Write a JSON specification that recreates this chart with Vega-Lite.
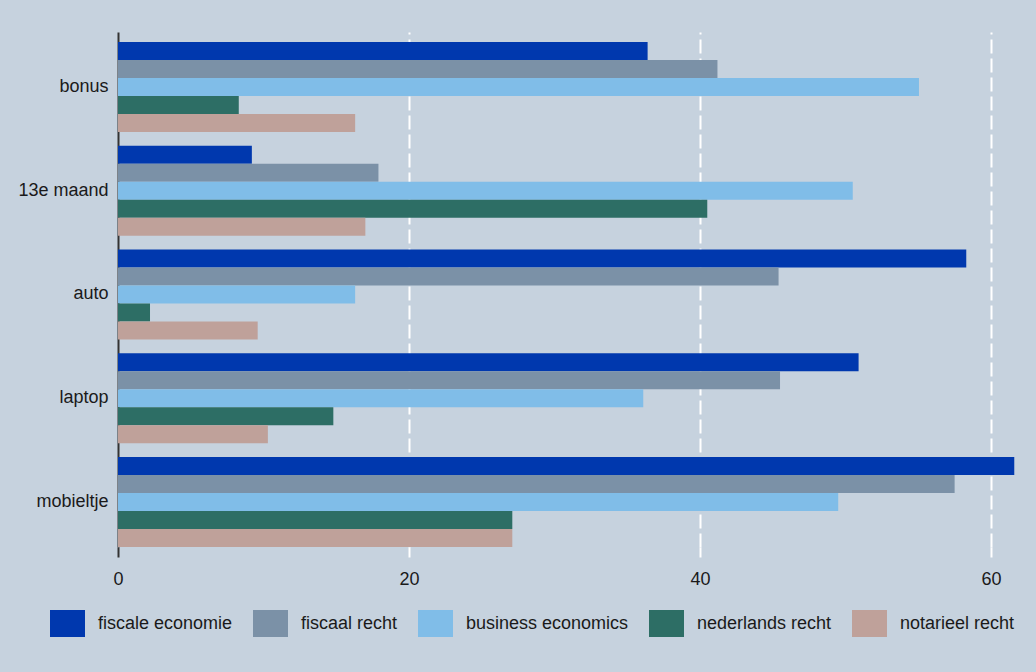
{
  "$schema": "https://vega.github.io/schema/vega-lite/v6.json",
  "width": 897,
  "height": 515,
  "autosize": {"type": "none"},
  "padding": {"left": 118, "top": 32, "right": 21, "bottom": 125},
  "background": "#C6D2DE",
  "data": {
    "values": [
      {"item": "bonus", "opl": "fiscale economie", "value": 36.4},
      {"item": "bonus", "opl": "fiscaal recht", "value": 41.2},
      {"item": "bonus", "opl": "business economics", "value": 55.05},
      {"item": "bonus", "opl": "nederlands recht", "value": 8.3},
      {"item": "bonus", "opl": "notarieel recht", "value": 16.3},
      {"item": "13e maand", "opl": "fiscale economie", "value": 9.2},
      {"item": "13e maand", "opl": "fiscaal recht", "value": 17.9},
      {"item": "13e maand", "opl": "business economics", "value": 50.5},
      {"item": "13e maand", "opl": "nederlands recht", "value": 40.5},
      {"item": "13e maand", "opl": "notarieel recht", "value": 17.0},
      {"item": "auto", "opl": "fiscale economie", "value": 58.3},
      {"item": "auto", "opl": "fiscaal recht", "value": 45.4},
      {"item": "auto", "opl": "business economics", "value": 16.3},
      {"item": "auto", "opl": "nederlands recht", "value": 2.2},
      {"item": "auto", "opl": "notarieel recht", "value": 9.6},
      {"item": "laptop", "opl": "fiscale economie", "value": 50.9},
      {"item": "laptop", "opl": "fiscaal recht", "value": 45.5},
      {"item": "laptop", "opl": "business economics", "value": 36.1},
      {"item": "laptop", "opl": "nederlands recht", "value": 14.8},
      {"item": "laptop", "opl": "notarieel recht", "value": 10.3},
      {"item": "mobieltje", "opl": "fiscale economie", "value": 61.6},
      {"item": "mobieltje", "opl": "fiscaal recht", "value": 57.5},
      {"item": "mobieltje", "opl": "business economics", "value": 49.5},
      {"item": "mobieltje", "opl": "nederlands recht", "value": 27.1},
      {"item": "mobieltje", "opl": "notarieel recht", "value": 27.1}
    ]
  },
  "mark": {"type": "bar"},
  "encoding": {
    "y": {
      "field": "item",
      "type": "nominal",
      "sort": ["bonus", "13e maand", "auto", "laptop", "mobieltje"],
      "scale": {"paddingInner": 0.1325, "paddingOuter": 0.048, "align": 1},
      "axis": {
        "title": null,
        "ticks": false,
        "grid": false,
        "labelPadding": 10,
        "domainColor": "#333333",
        "domainWidth": 2,
        "labelFontSize": 18,
        "labelFont": "Liberation Sans",
        "labelColor": "#1a1a1a"
      }
    },
    "yOffset": {
      "field": "opl",
      "type": "nominal",
      "sort": ["fiscale economie", "fiscaal recht", "business economics", "nederlands recht", "notarieel recht"],
      "scale": {"paddingInner": 0, "paddingOuter": 0}
    },
    "x": {
      "field": "value",
      "type": "quantitative",
      "scale": {"domain": [0, 61.65], "nice": false, "zero": true},
      "axis": {
        "title": null,
        "values": [0, 20, 40, 60],
        "domain": false,
        "tickSize": 10,
        "tickWidth": 2,
        "tickColor": {"condition": {"test": "datum.value === 0", "value": "#333333"}, "value": "white"},
        "labelPadding": 13,
        "labelFlush": false,
        "labelFontSize": 18,
        "labelFont": "Liberation Sans",
        "labelColor": "#1a1a1a",
        "grid": true,
        "gridColor": {"condition": {"test": "datum.value === 0", "value": "transparent"}, "value": "white"},
        "gridDash": [14, 5],
        "gridWidth": 2,
        "gridOpacity": 1
      }
    },
    "color": {
      "field": "opl",
      "type": "nominal",
      "sort": ["fiscale economie", "fiscaal recht", "business economics", "nederlands recht", "notarieel recht"],
      "scale": {
        "domain": ["fiscale economie", "fiscaal recht", "business economics", "nederlands recht", "notarieel recht"],
        "range": ["#0038AE", "#7B91A7", "#80BDE8", "#2D6E65", "#BFA19A"]
      },
      "legend": {
        "title": null,
        "orient": "none",
        "legendX": -68,
        "legendY": 574,
        "direction": "horizontal",
        "columns": 5,
        "symbolType": "M-1,-0.77H1V0.77H-1Z",
        "symbolSize": 1225,
        "symbolStrokeWidth": 0,
        "symbolOpacity": 1,
        "labelFontSize": 18,
        "labelFont": "Liberation Sans",
        "labelColor": "#1a1a1a",
        "labelOffset": 13,
        "columnPadding": 20,
        "labelLimit": 400
      }
    }
  },
  "config": {"view": {"stroke": null}}
}
